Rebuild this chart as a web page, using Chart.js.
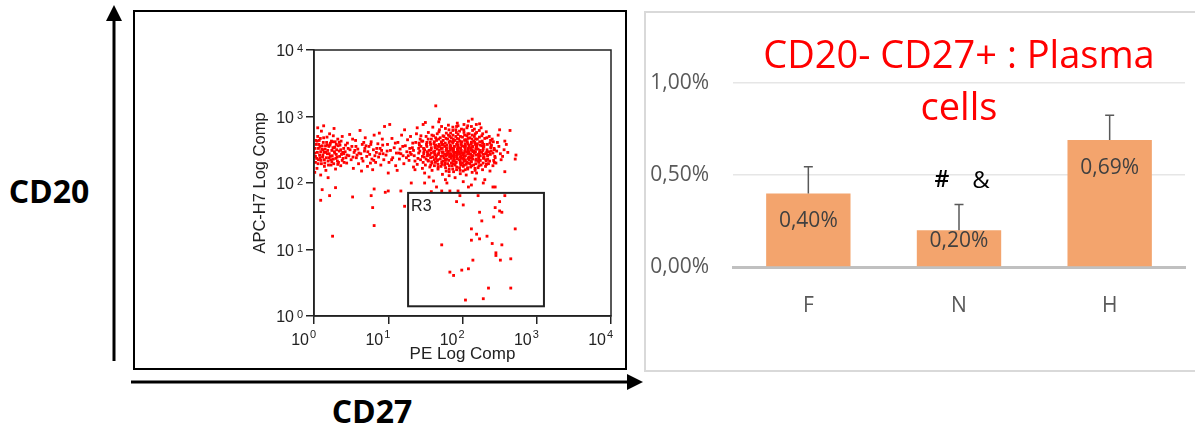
<!DOCTYPE html>
<html>
<head>
<meta charset="utf-8">
<script src="https://cdn.jsdelivr.net/npm/chart.js@4"></script>
<style>
  html, body { margin: 0; padding: 0; background: #fff; }
  body { width: 1195px; height: 432px; position: relative; overflow: hidden; }
  #deco { position: absolute; left: 0; top: 0; }
  #frame { position: absolute; left: 133px; top: 10px; width: 490px; height: 356px; border: 2px solid #000; }
  #flow { position: absolute; left: 135px; top: 12px; }
  #panel { position: absolute; left: 644px; top: 11px; width: 600px; height: 357px; border: 2px solid #d9d9d9; }
  #bars { position: absolute; left: 645px; top: 12px; }
</style>
</head>
<body>
<svg id="deco" width="1195" height="432">
  <line x1="114" y1="361" x2="114" y2="18" stroke="#000" stroke-width="3"/>
  <polygon points="114,5 106,21 122,21" fill="#000"/>
  <line x1="131" y1="382" x2="630" y2="382" stroke="#000" stroke-width="3"/>
  <polygon points="643,382 627,374 627,390" fill="#000"/>
  <text x="49" y="203" text-anchor="middle" font-family="Open Sans" font-weight="bold" font-size="32">CD20</text>
  <text x="372" y="423" text-anchor="middle" font-family="Open Sans" font-weight="bold" font-size="32">CD27</text>
</svg>
<div id="frame"></div>
<canvas id="flow" width="490" height="356"></canvas>
<div id="panel"></div>
<canvas id="bars" width="550" height="358"></canvas>
<script>
// events as [log10 PE, log10 APC-H7]
var leftCloud = [
  [0.01,2.45],[0.03,2.58],[0.02,2.31],[0.05,2.70],[0.04,2.22],[0.06,2.52],[0.08,2.38],[0.07,2.64],[0.09,2.47],[0.10,2.29],
  [0.11,2.56],[0.12,2.42],[0.13,2.68],[0.14,2.35],[0.15,2.51],[0.16,2.19],[0.17,2.61],[0.18,2.44],[0.19,2.33],[0.20,2.55],
  [0.21,2.74],[0.22,2.40],[0.23,2.27],[0.24,2.49],[0.25,2.62],[0.26,2.36],[0.27,2.53],[0.28,2.45],[0.29,2.21],[0.30,2.58],
  [0.31,2.39],[0.32,2.66],[0.33,2.31],[0.34,2.48],[0.35,2.57],[0.36,2.26],[0.37,2.43],[0.38,2.70],[0.39,2.37],[0.40,2.52],
  [0.02,2.40],[0.04,2.63],[0.06,2.35],[0.08,2.55],[0.10,2.78],[0.12,2.50],[0.14,2.25],[0.16,2.46],[0.18,2.57],[0.20,2.38],
  [0.22,2.60],[0.24,2.32],[0.26,2.71],[0.28,2.54],[0.30,2.43],[0.32,2.28],[0.34,2.61],[0.36,2.50],[0.38,2.34],[0.40,2.44],
  [0.05,2.83],[0.13,2.86],[0.27,2.82],[0.01,2.16],[0.09,2.12],[0.19,2.08],
  [0.42,2.47],[0.44,2.30],[0.45,2.60],[0.47,2.41],[0.48,2.73],[0.50,2.35],[0.51,2.55],[0.53,2.22],[0.54,2.46],[0.56,2.64],
  [0.57,2.38],[0.59,2.51],[0.60,2.29],[0.62,2.79],[0.63,2.44],[0.65,2.58],[0.66,2.33],[0.68,2.48],[0.69,2.68],[0.71,2.40],
  [0.72,2.25],[0.74,2.55],[0.75,2.43],[0.77,2.62],[0.78,2.36],[0.80,2.50],[0.81,2.72],[0.83,2.31],[0.84,2.46],[0.86,2.59],
  [0.87,2.39],[0.89,2.52],[0.90,2.27],[0.92,2.66],[0.93,2.44],[0.95,2.85],[0.46,2.52],[0.52,2.66],[0.58,2.42],[0.64,2.18],
  [0.70,2.56],[0.76,2.30],[0.82,2.41],[0.88,2.75],[0.94,2.35],[0.43,2.38],[0.55,2.49],[0.67,2.61],[0.79,2.20],[0.91,2.49],
  [0.015,2.52],[0.035,2.37],[0.025,2.64],[0.045,2.46],[0.055,2.29],[0.065,2.58],[0.075,2.42],[0.085,2.67],[0.095,2.34],[0.105,2.51],
  [0.115,2.39],[0.125,2.61],[0.135,2.46],[0.145,2.30],[0.155,2.56],[0.165,2.38],[0.175,2.69],[0.185,2.49],[0.195,2.27],[0.205,2.44],
  [0.215,2.57],[0.225,2.35],[0.235,2.63],[0.245,2.41],[0.255,2.53],[0.265,2.29],[0.275,2.47],[0.285,2.62],[0.295,2.37],[0.305,2.50],
  [0.315,2.33],[0.325,2.56],[0.345,2.40],[0.365,2.63],[0.385,2.46],[0.405,2.31],[0.425,2.57],[0.445,2.42],[0.485,2.50],[0.525,2.39],
  [0.565,2.55],[0.605,2.45],[0.645,2.37],[0.685,2.52],[0.725,2.47],[0.765,2.58],[0.805,2.34],[0.845,2.52],[0.885,2.44],[0.925,2.57]
];
var midCloud = [
  [0.97,2.42],[0.99,2.58],[1.01,2.31],[1.03,2.49],[1.05,2.67],[1.06,2.38],[1.08,2.53],[1.10,2.26],[1.11,2.45],[1.13,2.61],
  [1.15,2.36],[1.16,2.51],[1.18,2.72],[1.20,2.41],[1.21,2.29],[1.23,2.56],[1.25,2.47],[1.26,2.65],[1.28,2.34],[1.29,2.52],
  [1.31,2.43],[1.33,2.60],[1.34,2.24],[1.02,2.88],[1.12,2.19],[1.22,2.80],[1.30,2.70],[1.00,2.15],[1.17,2.44],[1.27,2.41],
  [0.985,2.48],[1.045,2.35],[1.095,2.60],[1.145,2.45],[1.195,2.55],[1.245,2.38],[1.295,2.46],[1.325,2.53]
];
var rightCloud = [
  [1.36,2.33],[1.34,2.49],[1.37,2.61],[1.35,2.41],[1.38,2.74],[1.36,2.20],
  [1.41,2.45],[1.39,2.28],[1.42,2.57],[1.40,2.37],[1.43,2.66],[1.41,2.52],[1.39,2.83],
  [1.46,2.40],[1.44,2.55],[1.47,2.31],[1.45,2.63],[1.48,2.47],[1.46,2.22],[1.44,2.71],[1.47,2.88],
  [1.51,2.36],[1.49,2.50],[1.52,2.61],[1.50,2.27],[1.53,2.44],[1.51,2.70],[1.49,2.15],[1.52,2.55],[1.50,2.91],
  [1.56,2.42],[1.54,2.33],[1.57,2.58],[1.55,2.49],[1.58,2.66],[1.56,2.24],[1.54,2.76],[1.57,2.38],[1.55,2.09],[1.58,2.53],
  [1.61,2.46],[1.59,2.30],[1.62,2.62],[1.60,2.39],[1.63,2.55],[1.61,2.71],[1.59,2.19],[1.62,2.35],[1.60,2.84],[1.63,2.44],[1.61,2.03],
  [1.66,2.51],[1.64,2.37],[1.67,2.28],[1.65,2.64],[1.68,2.45],[1.66,2.74],[1.64,2.57],[1.67,2.21],[1.65,2.41],[1.68,2.92],[1.66,2.33],[1.64,3.16],
  [1.71,2.40],[1.69,2.55],[1.72,2.31],[1.70,2.68],[1.73,2.47],[1.71,2.25],[1.69,2.80],[1.72,2.60],[1.70,2.36],[1.73,2.13],[1.71,2.52],[1.69,2.96],
  [1.76,2.43],[1.74,2.58],[1.77,2.34],[1.75,2.70],[1.78,2.49],[1.76,2.27],[1.74,2.64],[1.77,2.82],[1.75,2.38],[1.78,2.18],[1.76,2.55],[1.74,2.46],[1.77,2.05],
  [1.81,2.48],[1.79,2.36],[1.82,2.61],[1.80,2.29],[1.83,2.53],[1.81,2.72],[1.79,2.42],[1.82,2.21],[1.80,2.66],[1.83,2.39],[1.81,2.87],[1.79,2.57],[1.82,2.11],[1.80,2.45],
  [1.86,2.41],[1.84,2.55],[1.87,2.33],[1.85,2.68],[1.88,2.47],[1.86,2.26],[1.84,2.75],[1.87,2.60],[1.85,2.37],[1.88,2.17],[1.86,2.52],[1.84,2.44],[1.87,2.84],[1.85,2.30],[1.88,2.63],
  [1.91,2.46],[1.89,2.34],[1.92,2.58],[1.90,2.27],[1.93,2.51],[1.91,2.70],[1.89,2.40],[1.92,2.20],[1.90,2.64],[1.93,2.36],[1.91,2.80],[1.89,2.55],[1.92,2.43],[1.90,2.08],[1.93,2.90],[1.91,2.31],
  [1.96,2.44],[1.94,2.57],[1.97,2.30],[1.95,2.66],[1.98,2.49],[1.96,2.23],[1.94,2.73],[1.97,2.39],[1.95,2.53],[1.98,2.61],[1.96,2.35],[1.94,2.86],[1.97,2.14],[1.95,2.47],[1.98,2.27],[1.96,2.78],
  [2.01,2.42],[1.99,2.56],[2.02,2.33],[2.00,2.69],[2.03,2.48],[2.01,2.25],[1.99,2.62],[2.02,2.76],[2.00,2.38],[2.03,2.54],[2.01,2.18],[1.99,2.45],[2.02,2.88],[2.00,2.30],[2.03,2.64],[2.01,2.02],
  [2.06,2.47],[2.04,2.35],[2.07,2.59],[2.05,2.28],[2.08,2.52],[2.06,2.71],[2.04,2.41],[2.07,2.21],[2.05,2.65],[2.08,2.37],[2.06,2.83],[2.04,2.55],[2.07,2.44],[2.05,2.12],[2.08,2.93],[2.06,2.31],
  [2.11,2.43],[2.09,2.57],[2.12,2.32],[2.10,2.68],[2.13,2.49],[2.11,2.24],[2.09,2.74],[2.12,2.61],[2.10,2.38],[2.13,2.16],[2.11,2.53],[2.09,2.46],[2.12,2.85],[2.10,2.29],[2.13,2.96],
  [2.16,2.45],[2.14,2.36],[2.17,2.58],[2.15,2.27],[2.18,2.51],[2.16,2.70],[2.14,2.41],[2.17,2.19],[2.15,2.63],[2.18,2.34],[2.16,2.81],[2.14,2.54],[2.17,2.06],[2.15,2.48],
  [2.21,2.43],[2.19,2.55],[2.22,2.31],[2.20,2.66],[2.23,2.47],[2.21,2.23],[2.19,2.76],[2.22,2.38],[2.20,2.59],[2.23,2.89],[2.21,2.51],[2.19,2.15],[2.22,2.35],
  [2.26,2.46],[2.24,2.34],[2.27,2.60],[2.25,2.27],[2.28,2.52],[2.26,2.71],[2.24,2.41],[2.27,2.20],[2.25,2.83],[2.28,2.38],[2.26,2.56],
  [2.31,2.44],[2.29,2.58],[2.32,2.33],[2.30,2.67],[2.33,2.50],[2.31,2.25],[2.29,2.39],[2.32,2.77],[2.30,2.05],
  [2.36,2.47],[2.34,2.36],[2.37,2.60],[2.35,2.29],[2.38,2.53],[2.36,2.70],[2.34,2.42],[2.37,2.18],
  [2.41,2.45],[2.39,2.57],[2.42,2.34],[2.40,2.66],[2.43,2.50],[2.41,2.26],
  [2.46,2.48],[2.44,2.38],[2.47,2.61],[2.45,2.30],[2.48,2.72],
  [2.51,2.44],[2.49,2.55],[2.52,2.35],[2.50,2.80],
  [2.56,2.50],[2.54,2.40],[2.57,2.63],[2.61,2.46],[2.59,2.58],[2.71,2.36],
  [2.57,2.17],[2.72,2.42],[2.64,2.79]
];
var rightCore = [
  [1.425,2.48],[1.435,2.35],[1.415,2.60],[1.475,2.52],[1.485,2.39],[1.465,2.63],[1.478,2.44],
  [1.525,2.47],[1.535,2.34],[1.515,2.58],[1.528,2.41],[1.538,2.66],
  [1.575,2.45],[1.585,2.32],[1.565,2.61],[1.578,2.50],[1.588,2.72],[1.572,2.27],
  [1.625,2.48],[1.635,2.31],[1.615,2.59],[1.628,2.42],[1.638,2.68],[1.622,2.26],[1.632,2.53],
  [1.675,2.43],[1.685,2.58],[1.665,2.35],[1.678,2.66],[1.688,2.49],[1.672,2.24],[1.682,2.77],[1.668,2.55],
  [1.725,2.46],[1.735,2.33],[1.715,2.62],[1.728,2.52],[1.738,2.71],[1.722,2.28],[1.732,2.41],[1.718,2.85],[1.726,2.57],
  [1.775,2.41],[1.785,2.53],[1.765,2.30],[1.778,2.67],[1.788,2.44],[1.772,2.23],[1.782,2.75],[1.768,2.60],[1.776,2.36],[1.786,2.50],
  [1.825,2.44],[1.835,2.57],[1.815,2.34],[1.828,2.70],[1.838,2.49],[1.822,2.26],[1.832,2.63],[1.818,2.80],[1.826,2.40],[1.836,2.53],[1.820,2.17],
  [1.875,2.49],[1.885,2.38],[1.865,2.62],[1.878,2.29],[1.888,2.55],[1.872,2.72],[1.882,2.44],[1.868,2.21],[1.876,2.66],[1.886,2.34],[1.870,2.79],[1.880,2.51],
  [1.925,2.40],[1.935,2.54],[1.915,2.31],[1.928,2.67],[1.938,2.47],[1.922,2.24],[1.932,2.61],[1.918,2.76],[1.926,2.37],[1.936,2.50],[1.920,2.85],[1.930,2.43],
  [1.975,2.52],[1.985,2.37],[1.965,2.63],[1.978,2.28],[1.988,2.45],[1.972,2.70],[1.982,2.58],[1.968,2.19],[1.976,2.41],[1.986,2.81],[1.970,2.33],[1.980,2.49],
  [2.025,2.45],[2.035,2.59],[2.015,2.36],[2.028,2.72],[2.038,2.51],[2.022,2.27],[2.032,2.65],[2.018,2.80],[2.026,2.40],[2.036,2.20],[2.020,2.55],[2.030,2.33],
  [2.075,2.50],[2.085,2.39],[2.065,2.62],[2.078,2.30],[2.088,2.56],[2.072,2.74],[2.082,2.44],[2.068,2.23],[2.076,2.67],[2.086,2.35],[2.070,2.86],[2.080,2.48],
  [2.125,2.41],[2.135,2.55],[2.115,2.33],[2.128,2.66],[2.138,2.47],[2.122,2.26],[2.132,2.72],[2.118,2.59],[2.126,2.37],[2.136,2.79],[2.120,2.50],
  [2.175,2.47],[2.185,2.36],[2.165,2.61],[2.178,2.29],[2.188,2.54],[2.172,2.74],[2.182,2.42],[2.168,2.22],[2.176,2.66],[2.186,2.88],
  [2.225,2.44],[2.235,2.57],[2.215,2.33],[2.228,2.69],[2.238,2.49],[2.222,2.26],[2.232,2.62],[2.218,2.40],[2.226,2.79],
  [2.275,2.49],[2.285,2.37],[2.265,2.63],[2.278,2.30],[2.288,2.55],[2.272,2.74],[2.282,2.43],
  [2.325,2.46],[2.335,2.58],[2.315,2.35],[2.328,2.68],[2.338,2.41],[2.322,2.28],
  [2.375,2.43],[2.385,2.55],[2.365,2.33],[2.378,2.64],[2.388,2.48],
  [2.425,2.52],[2.435,2.40],[2.415,2.62],[2.428,2.31]
];
var lowEvents = [
  [0.09,1.74],[0.21,1.81],[0.11,1.90],[0.29,1.93],[0.25,1.20],[0.52,1.79],[0.77,1.81],[0.79,1.63],[0.81,1.36],[0.81,1.91],
  [0.96,1.86],[1.00,1.88],[1.17,1.88],[1.22,1.65],[1.31,2.00],[1.49,2.00],[1.58,1.87],[1.65,1.94],[1.72,1.88],[1.83,1.88],
  [1.94,1.88],[2.08,1.94],[2.12,1.97],[2.28,2.00],[2.41,1.94],[1.79,2.00],[2.44,1.94]
];
var gateEvents = [
  [1.965,1.81],[2.21,1.81],[2.57,1.81],[1.92,1.72],[2.01,1.67],[2.50,1.72],[2.44,1.63],[2.50,1.58],[2.53,1.56],[2.23,1.56],
  [2.42,1.49],[2.26,1.43],[2.71,1.31],[2.12,1.31],[2.19,1.23],[2.33,1.20],[2.12,1.14],[2.23,1.16],[2.40,1.09],[2.53,1.07],
  [1.72,1.07],[2.45,0.95],[2.45,0.91],[2.14,0.84],[2.51,0.84],[2.65,0.86],[2.08,0.71],[1.99,0.69],[1.83,0.66],[1.88,0.61],
  [2.35,0.42],[2.65,0.42],[2.28,0.26],[2.04,0.24]
];
// R3 gate: PE from, PE to, APC from, APC to
var gateR3 = [18.5, 1250, 1.4, 71];
var decades = [0, 1, 2, 3, 4];

// bar chart
var groups = ['F', 'N', 'H'];
var rates  = [0.40, 0.20, 0.69];
var errors = [0.145, 0.14, 0.135];
var yTicks = [0, 0.5, 1.0];

var plotFont = '"Liberation Sans", Arial, sans-serif';

function pct(v) { return v.toFixed(2).replace('.', ',') + '%'; }

var events = leftCloud.concat(midCloud, rightCloud, rightCore, lowEvents, gateEvents).map(function (p) {
  return { x: Math.pow(10, p[0]), y: Math.pow(10, p[1]) };
});

function decadeTicks(scale) {
  scale.ticks = decades.map(function (e) { return { value: Math.pow(10, e) }; });
}

var flowDecor = {
  id: 'flowDecor',
  afterDraw: function (chart) {
    var ctx = chart.ctx, ca = chart.chartArea;
    var xs = chart.scales.x, ys = chart.scales.y;
    ctx.save();
    ctx.strokeStyle = '#222';
    ctx.lineWidth = 1.5;
    ctx.strokeRect(ca.left, ca.top, ca.right - ca.left, ca.bottom - ca.top);

    // gate
    var gx1 = xs.getPixelForValue(gateR3[0]), gx2 = xs.getPixelForValue(gateR3[1]);
    var gy1 = ys.getPixelForValue(gateR3[3]), gy2 = ys.getPixelForValue(gateR3[2]);
    ctx.lineWidth = 2;
    ctx.strokeRect(gx1, gy1, gx2 - gx1, gy2 - gy1);
    ctx.fillStyle = '#222';
    ctx.font = '16px ' + plotFont;
    ctx.textAlign = 'left';
    ctx.textBaseline = 'alphabetic';
    ctx.fillText('R3', gx1 + 3, gy1 + 18);

    // decade labels 10^n
    decades.forEach(function (e) {
      var px = xs.getPixelForValue(Math.pow(10, e));
      ctx.font = '16px ' + plotFont;
      ctx.textAlign = 'right';
      ctx.fillText('10', px - 5, ca.bottom + 29);
      ctx.font = '11px ' + plotFont;
      ctx.textAlign = 'left';
      ctx.fillText(String(e), px - 4, ca.bottom + 22);

      var py = ys.getPixelForValue(Math.pow(10, e));
      ctx.font = '16px ' + plotFont;
      ctx.textAlign = 'right';
      ctx.fillText('10', ca.left - 20, py + 6);
      ctx.font = '11px ' + plotFont;
      ctx.textAlign = 'left';
      ctx.fillText(String(e), ca.left - 17, py + 2);
    });

    // axis titles
    ctx.font = '17px ' + plotFont;
    ctx.textAlign = 'center';
    ctx.fillText('PE Log Comp', (ca.left + ca.right) / 2, ca.bottom + 43);
    ctx.translate(ca.left - 49, (ca.top + ca.bottom) / 2);
    ctx.rotate(-Math.PI / 2);
    ctx.font = '16.5px ' + plotFont;
    ctx.fillText('APC-H7 Log Comp', 0, 0);
    ctx.restore();
  }
};

new Chart(document.getElementById('flow'), {
  type: 'scatter',
  data: {
    datasets: [{
      data: events,
      pointStyle: 'rect',
      pointRadius: 2,
      backgroundColor: '#ff0000',
      borderWidth: 0
    }]
  },
  options: {
    responsive: false,
    animation: false,
    layout: { padding: { top: 38, right: 14, left: 0, bottom: 0 } },
    plugins: { legend: { display: false }, tooltip: { enabled: false } },
    scales: {
      x: {
        type: 'logarithmic', min: 1, max: 10000,
        afterBuildTicks: decadeTicks,
        afterFit: function (s) { s.height = 52; },
        ticks: { display: false },
        grid: { drawOnChartArea: false, tickLength: 8, color: '#222', lineWidth: 1.5 },
        border: { color: '#222', width: 1.5 }
      },
      y: {
        type: 'logarithmic', min: 1, max: 10000,
        afterBuildTicks: decadeTicks,
        afterFit: function (s) { s.width = 179; },
        ticks: { display: false },
        grid: { drawOnChartArea: false, tickLength: 8, color: '#222', lineWidth: 1.5 },
        border: { color: '#222', width: 1.5 }
      }
    }
  },
  plugins: [flowDecor]
});

var barDecor = {
  id: 'barDecor',
  afterDatasetsDraw: function (chart) {
    var ctx = chart.ctx, ca = chart.chartArea, ys = chart.scales.y;
    var bars = chart.getDatasetMeta(0).data;
    ctx.save();
    bars.forEach(function (bar, i) {
      var top = ys.getPixelForValue(rates[i] + errors[i]);
      ctx.strokeStyle = '#595959';
      ctx.lineWidth = 1.5;
      ctx.beginPath();
      ctx.moveTo(bar.x, bar.y);
      ctx.lineTo(bar.x, top);
      ctx.moveTo(bar.x - 4.5, top);
      ctx.lineTo(bar.x + 4.5, top);
      ctx.stroke();

      ctx.fillStyle = '#404040';
      ctx.font = '21px "Open Sans"';
      ctx.textAlign = 'center';
      ctx.textBaseline = 'middle';
      ctx.fillText(pct(rates[i]), bar.x, Math.min(bar.y + 28, bar.base - 25));

      if (groups[i] === 'N') {
        ctx.fillStyle = '#000';
        ctx.font = '600 23px "Open Sans"';
        ctx.fillText('#', bar.x - 17, top - 24);
        ctx.font = '24px "Open Sans"';
        ctx.fillText('&', bar.x + 22, top - 23);
      }
    });

    var cx = (ca.left + ca.right) / 2;
    ctx.fillStyle = '#ff0000';
    ctx.font = '38px "Open Sans"';
    ctx.textAlign = 'center';
    ctx.textBaseline = 'alphabetic';
    ctx.fillText('CD20- CD27+ : Plasma', cx, ca.top - 15);
    ctx.fillText('cells', cx, ca.top + 37);
    ctx.restore();
  }
};

new Chart(document.getElementById('bars'), {
  type: 'bar',
  data: {
    labels: groups,
    datasets: [{
      data: rates,
      backgroundColor: '#f3a46d',
      barPercentage: 0.56,
      categoryPercentage: 1.0
    }]
  },
  options: {
    responsive: false,
    animation: false,
    layout: { padding: { top: 71, right: 10, left: 0, bottom: 0 } },
    plugins: { legend: { display: false }, tooltip: { enabled: false } },
    scales: {
      x: {
        afterFit: function (s) { s.height = 103; },
        grid: { display: false },
        border: { display: true, color: '#c0c0c0', width: 3 },
        ticks: { color: '#595959', font: { family: 'Open Sans', size: 21 }, padding: 18 }
      },
      y: {
        min: 0, max: 1.0,
        afterBuildTicks: function (s) { s.ticks = yTicks.map(function (v) { return { value: v }; }); },
        afterFit: function (s) { s.width = 88; },
        border: { display: false },
        grid: {
          drawTicks: false,
          color: function (c) { return c.tick && c.tick.value === 0 ? 'rgba(0,0,0,0)' : '#e6e6e6'; },
          lineWidth: 1.5
        },
        ticks: {
          color: '#595959', font: { family: 'Open Sans', size: 21 }, padding: 24,
          callback: function (v) { return pct(v); }
        }
      }
    }
  },
  plugins: [barDecor]
});
</script>
</body>
</html>
